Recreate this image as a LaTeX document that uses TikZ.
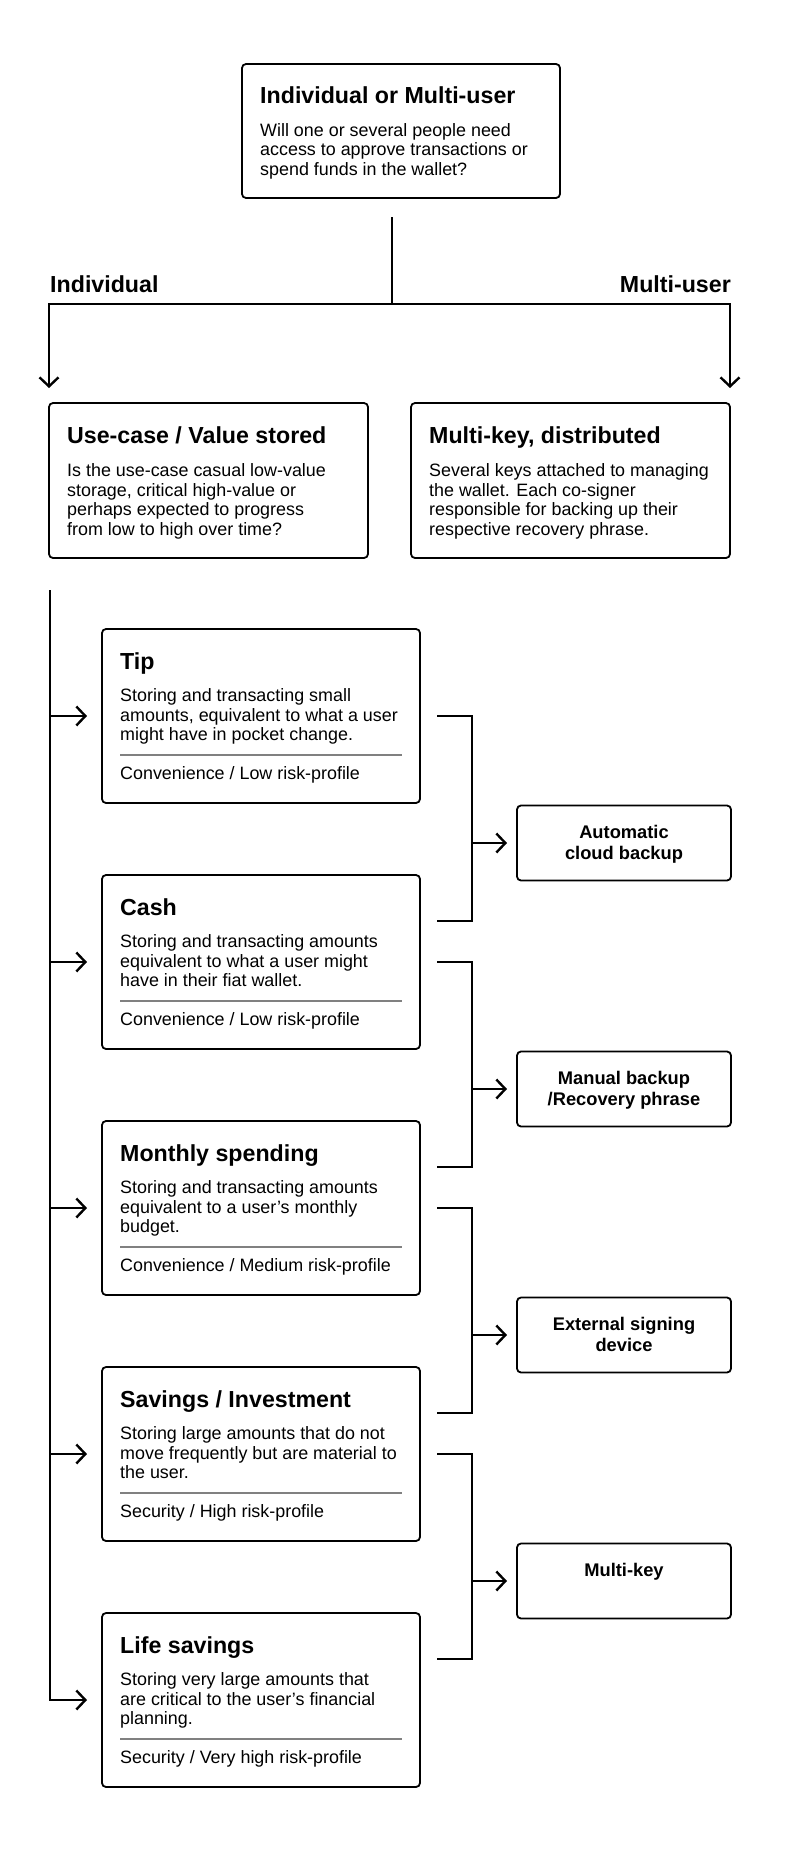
\documentclass[tikz,border=0pt]{standalone}
\usepackage{fontspec}
\setmainfont{Liberation Sans}
\usetikzlibrary{arrows.meta,calc}
% multi-line nodes anchored at base use the baseline of their LAST line
\newcommand\levelbox[5]{%
  \node[box,minimum width=318pt,minimum height=174pt] (#1) at (102,#2) {};
  \node[ttl] (#1-t) at ($(#1.north west)+(18,40)$) {#3};
  \node[body] (#1-b) at ($(#1.north west)+(18,111.5)$) {#4};
  \draw[sep] ($(#1.north west)+(18,126)$) -- ($(#1.north east)+(-18,126)$);
  \node[body] (#1-f) at ($(#1.north west)+(18,150)$) {#5};
}
\newcommand\methodbox[4]{%
  \node[box,minimum width=214pt,minimum height=75pt] (#1) at (517,#2) {};
  \node[small] (#1-t) at ($(#1.north)+(0,#3)$) {#4};
}
\begin{document}
\begin{tikzpicture}[x=1pt,y=-1pt,
  box/.style={draw=black,line width=1.8pt,rounded corners=4pt,inner sep=0pt,outer sep=0pt,anchor=north west},
  conn/.style={line width=2.4pt,draw=black},
  arr/.style={conn,-{Straight Barb[length=9pt,width=19pt]}},
  ttl/.style={anchor=base west,inner sep=0pt,font=\fontsize{23.2pt}{27pt}\selectfont\bfseries},
  body/.style={anchor=base west,inner sep=0pt,align=left,font=\fontsize{17.9pt}{19.4pt}\selectfont},
  small/.style={anchor=base,inner sep=0pt,align=center,font=\fontsize{18.3pt}{21.5pt}\selectfont\bfseries},
  sep/.style={line width=1.6pt,draw=black!50}
]
\useasboundingbox[fill=white] (0,0) rectangle (800,1860);

% top question
\node[box,minimum width=318pt,minimum height=134pt] (q) at (242,64) {};
\node[ttl] (q-t) at (260,103) {Individual or Multi-user};
\node[body] (q-b) at (260,175) {Will one or several people need\\access to approve transactions or\\spend funds in the wallet?};

% second level
\node[box,minimum width=319pt,minimum height=155pt] (uc) at (49,403) {};
\node[ttl] (uc-t) at (67,443) {Use-case / Value stored};
\node[body] (uc-b) at (67,535) {Is the use-case casual low-value\\storage, critical high-value or\\perhaps expected to progress\\from low to high over time?};

\node[box,minimum width=319pt,minimum height=155pt] (mk) at (411,403) {};
\node[ttl] (mk-t) at (429,443) {Multi-key, distributed};
\node[body] (mk-b) at (429,535) {Several keys attached to managing\\the wallet. Each co-signer\\responsible for backing up their\\respective recovery phrase.};

\node[ttl] (lind) at (50,292) {Individual};
\node[ttl,anchor=base east] (lmu) at (731,292) {Multi-user};

\coordinate (split) at (392,304);
\draw[conn] ($(q.south)+(-9,19)$) -- (split);
\draw[arr,shorten >=15pt] (split) -| (uc.north west);
\draw[arr,shorten >=15pt] (split) -| (mk.north east);

% levels
\levelbox{tip}{629}{Tip}{Storing and transacting small\\amounts, equivalent to what a user\\might have in pocket change.}{Convenience / Low risk-profile}
\levelbox{cash}{875}{Cash}{Storing and transacting amounts\\equivalent to what a user might\\have in their fiat wallet.}{Convenience / Low risk-profile}
\levelbox{month}{1121}{Monthly spending}{Storing and transacting amounts\\equivalent to a user’s monthly\\budget.}{Convenience / Medium risk-profile}
\levelbox{sav}{1367}{Savings / Investment}{Storing large amounts that do not\\move frequently but are material to\\the user.}{Security / High risk-profile}
\levelbox{life}{1613}{Life savings}{Storing very large amounts that\\are critical to the user’s financial\\planning.}{Security / Very high risk-profile}

% spine
\coordinate (spine) at (50,590);
\draw[arr,shorten >=15pt] (spine) |- (life.west);
\foreach \b in {tip,cash,month,sav}{
  \draw[arr,shorten >=15pt] (spine |- \b.west) -- (\b.west);
}

% methods
\methodbox{auto}{805.5}{54}{Automatic\\cloud backup}
\methodbox{manual}{1051.5}{54}{Manual backup\\/Recovery phrase}
\methodbox{ext}{1297.5}{54}{External signing\\device}
\methodbox{multi}{1543.5}{32.5}{Multi-key}

\coordinate (bx) at (472,0);
\draw[conn] ($(tip.east)+(17,0)$) -| ($(cash.north east)+(52,46)$) -- ($(cash.north east)+(17,46)$);
\draw[conn] ($(cash.east)+(17,0)$) -| ($(month.north east)+(52,46)$) -- ($(month.north east)+(17,46)$);
\draw[conn] ($(month.east)+(17,0)$) -| ($(sav.north east)+(52,46)$) -- ($(sav.north east)+(17,46)$);
\draw[conn] ($(sav.east)+(17,0)$) -| ($(life.north east)+(52,46)$) -- ($(life.north east)+(17,46)$);
\foreach \m in {auto,manual,ext,multi}{
  \draw[arr,shorten >=10pt] (bx |- \m.west) -- (\m.west);
}
\end{tikzpicture}
\end{document}
